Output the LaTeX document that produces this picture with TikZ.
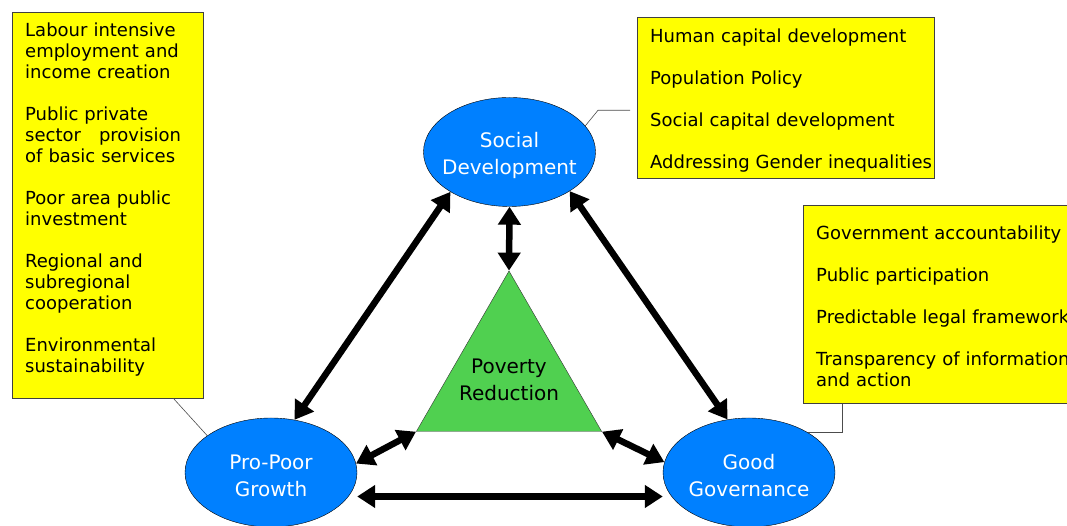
\documentclass[tikz,border=0pt]{standalone}
\usepackage{fontspec}
\setmainfont{DejaVu Sans}
\usetikzlibrary{shapes.geometric,arrows.meta}

\definecolor{goalblue}{RGB}{0,128,255}
\definecolor{povgreen}{RGB}{80,208,80}
\definecolor{listyellow}{RGB}{255,255,0}

\tikzset{
  goal/.style={ellipse, draw=black, fill=goalblue, text=white, align=center,
    inner xsep=-8pt, inner ysep=0pt,
    minimum width=172pt, minimum height=109pt, font=\fontsize{20}{27}\selectfont},
  listbox/.style={rectangle, draw=black!75, fill=listyellow, align=left, anchor=north west,
    inner xsep=13pt, font=\fontsize{18}{21}\selectfont},
  link/.style={line width=6.5pt, {Triangle[length=18pt,width=22pt]}-{Triangle[length=18pt,width=22pt]}},
  callout/.style={draw=black!70, line width=0.6pt}
}
% struts for the first and last line of a list
\newcommand{\toprule}[1]{\rule{0pt}{#1}}
\newcommand{\botrule}[1]{\rule[-#1]{0pt}{#1}}

\begin{document}
\begin{tikzpicture}[x=1pt, y=1pt]
    \useasboundingbox (0,0) rectangle (1067,526);
    \clip (0,0) rectangle (1067,526);

    % Three pillars
    \node[goal] (social) at (509.5,374) {\toprule{22pt}Social\\Development};
    \node[goal] (propoor) at (271,53.5) {\toprule{22pt}Pro-Poor\\Growth};
    \node[goal] (goodgov) at (749,53.5) {\toprule{22pt}Good\\Governance};

    % Poverty reduction in the middle
    \node[regular polygon, regular polygon sides=3, minimum size=214pt, inner sep=0pt,
          draw=black!80, fill=povgreen] (poverty) at (509,148) {};
    \node[align=center, font=\fontsize{20}{27}\selectfont] (povtext) at (509,146) {Poverty\\Reduction};

    % Yellow lists
    \node[listbox, text width=165pt, minimum height=386pt] (growthbox) at (12,514)
        {\toprule{21pt}Labour intensive\\employment and\\income creation\\[21pt]
         Public private\\sector\hspace{18pt}provision\\of basic services\\[21pt]
         Poor area public\\investment\\[21pt]
         Regional and\\subregional\\cooperation\\[21pt]
         Environmental\\sustainability\botrule{22pt}};
    \node[listbox, text width=271pt, minimum height=161pt] (socialbox) at (637,509)
        {\toprule{22pt}Human capital development\\[21pt]
         Population Policy\\[21pt]
         Social capital development\\[21pt]
         \mbox{Addressing Gender inequalities}\botrule{6.5pt}};
    \node[listbox, text width=280pt, minimum height=198pt] (govbox) at (803,321)
        {\toprule{30.5pt}Government accountability\\[21pt]
         Public participation\\[21pt]
         Predictable legal framework\\[21pt]
         Transparency of information\\and action\botrule{14pt}};

    % Callout lines
    \draw[callout] ([xshift=-30pt]growthbox.south east) -- (propoor.150);
    \draw[callout] ([shift={(-7pt,-12.5pt)}]socialbox.west) -- ++(-32pt,0) -- (social.19);
    \draw[callout] ([xshift=39pt]govbox.south west) |- (goodgov.34);

    % Two-way links
    \draw[link] (social.214) -- (propoor.66);
    \draw[link] (social.327) -- (goodgov.112);
    \draw[link] (social.south) -- (poverty.corner 1);
    \draw[link] (propoor.6) -- (poverty.corner 2);
    \draw[link] (poverty.corner 3) -- (goodgov.173);
    \draw[link] ([yshift=-24pt]propoor.east) -- ([yshift=-24pt]goodgov.west);
\end{tikzpicture}
\end{document}
